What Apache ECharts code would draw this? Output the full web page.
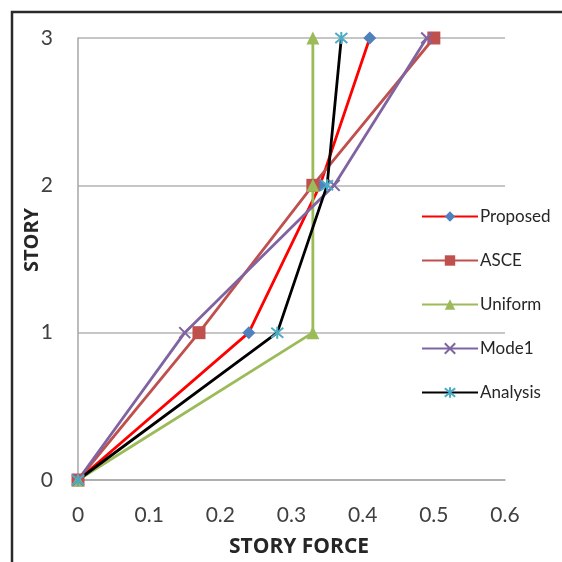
<!DOCTYPE html>
<html>
<head>
<meta charset="utf-8">
<script src="https://cdn.jsdelivr.net/npm/echarts@6/dist/echarts.min.js"></script>
<style>
  html, body { margin: 0; padding: 0; background: #fff; }
  #chart { width: 562px; height: 562px; }
</style>
</head>
<body>
<div id="chart"></div>
<script>
// Story levels (y) and lateral force distributions (x) for each method
const stories = [0, 1, 2, 3];
const proposed = [0, 0.24, 0.34, 0.41];
const asce = [0, 0.17, 0.33, 0.50];
const uniform = [0, 0.33, 0.33, 0.33];
const mode1 = [0, 0.15, 0.36, 0.49];
const analysis = [0, 0.28, 0.35, 0.37];

const xTicks = ['0', '0.1', '0.2', '0.3', '0.4', '0.5', '0.6'];
const xTitle = 'STORY FORCE';
const yTitle = 'STORY';

const FONT = 'Lato, "Open Sans", sans-serif';
const BOLD_FONT = '"Open Sans", Lato, sans-serif';
const crossPath = 'path://M0,0 L10,10 M10,0 L0,10';
const starPath = 'path://M0,0 L10,10 M10,0 L0,10 M5,-1 L5,11';

function pts(xs) {
  return xs.map((x, i) => [x, stories[i]]);
}

function lineSeries(name, xs, lineColor, symbol, markColor, size, strokeMarker) {
  return {
    name: name,
    type: 'line',
    data: pts(xs),
    symbol: symbol,
    symbolSize: size,
    showAllSymbol: true,
    lineStyle: { color: lineColor, width: 2.8 },
    itemStyle: strokeMarker
      ? { color: markColor, borderColor: markColor, borderWidth: 2 }
      : { color: markColor, borderColor: markColor, borderWidth: 0 },
    color: lineColor,
    z: 3
  };
}

const chart = echarts.init(document.getElementById('chart'), null, { renderer: 'canvas' });

chart.setOption({
  backgroundColor: '#ffffff',
  animation: false,
  graphic: [
    {
      type: 'rect',
      shape: { x: 12, y: 12, width: 700, height: 700 },
      style: { fill: 'none', stroke: '#2a2a2a', lineWidth: 2.5 },
      silent: true,
      z: -1
    },
    {
      // horizontal axis title
      type: 'text',
      x: 299,
      y: 547,
      style: {
        text: xTitle,
        fontFamily: BOLD_FONT,
        fontSize: 21,
        fontWeight: 'bold',
        fill: '#262626',
        align: 'center',
        verticalAlign: 'middle'
      },
      silent: true
    },
    {
      // vertical axis title
      type: 'text',
      x: 32,
      y: 240,
      rotation: Math.PI / 2,
      style: {
        text: yTitle,
        fontFamily: BOLD_FONT,
        fontSize: 20,
        fontWeight: 'bold',
        fill: '#262626',
        align: 'center',
        verticalAlign: 'middle'
      },
      silent: true
    }
  ],
  grid: { left: 78, right: 57, top: 38, bottom: 82, containLabel: false },
  xAxis: {
    type: 'value',
    min: 0,
    max: 0.6,
    interval: 0.1,
    axisLine: { show: true, lineStyle: { color: '#a6a6a6', width: 1.5 } },
    axisTick: { show: false },
    splitLine: { show: false },
    axisLabel: {
      margin: 25,
      fontFamily: FONT,
      fontSize: 21,
      color: '#404040',
      formatter: function (v) {
        const i = Math.round(v * 10);
        return xTicks[i] !== undefined ? xTicks[i] : '';
      }
    }
  },
  yAxis: {
    type: 'value',
    min: 0,
    max: 3,
    interval: 1,
    axisLine: { show: true, lineStyle: { color: '#a6a6a6', width: 1.5 } },
    axisTick: { show: false },
    splitLine: { show: true, lineStyle: { color: '#b3b3b3', width: 1.5 } },
    axisLabel: { margin: 25, fontFamily: FONT, fontSize: 21, color: '#404040' }
  },
  legend: {
    orient: 'vertical',
    left: 416,
    top: 203,
    itemGap: 27,
    itemWidth: 56,
    itemHeight: 13,
    textStyle: { fontFamily: FONT, fontSize: 17, color: '#262626', padding: [0, 0, 0, -3] },
    data: ['Proposed', 'ASCE', 'Uniform', 'Mode1', 'Analysis']
  },
  series: [
    lineSeries('Proposed', proposed, '#ff0000', 'diamond', '#4f81bd', 13, false),
    lineSeries('ASCE', asce, '#c0504d', 'rect', '#c0504d', 13, false),
    lineSeries('Uniform', uniform, '#9bbb59', 'triangle', '#9bbb59', 13, false),
    lineSeries('Mode1', mode1, '#8064a2', crossPath, '#8064a2', 11, true),
    lineSeries('Analysis', analysis, '#000000', starPath, '#4bacc6', 12, true)
  ]
});
</script>
</body>
</html>
